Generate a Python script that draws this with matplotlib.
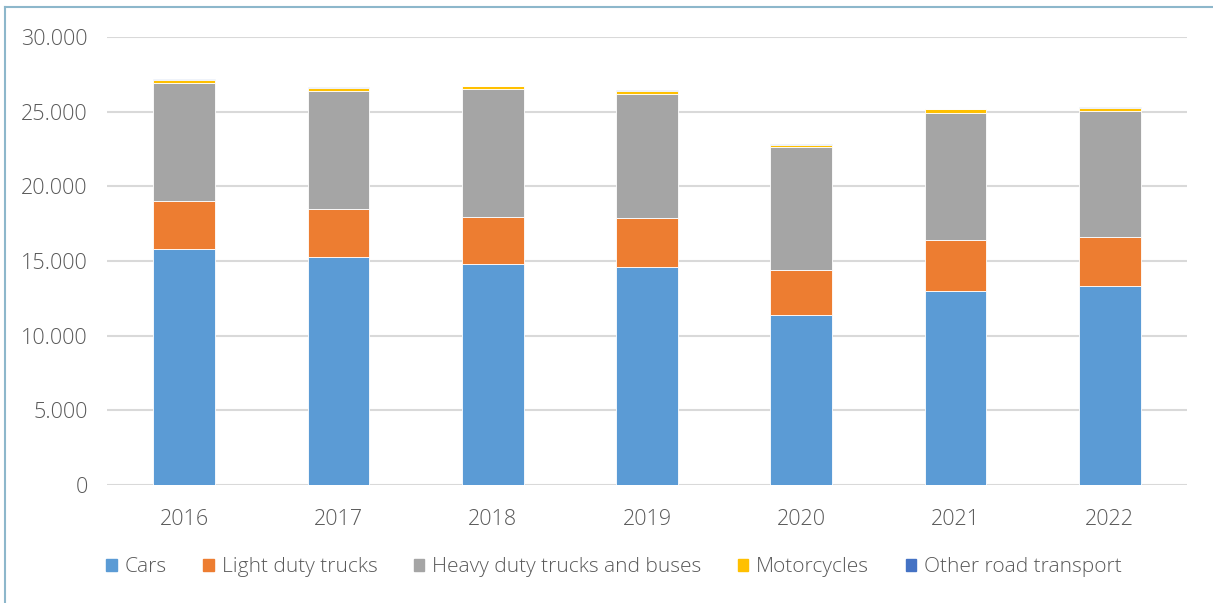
import matplotlib
matplotlib.use("Agg")
import matplotlib.pyplot as plt
from matplotlib.ticker import FuncFormatter, MultipleLocator
from matplotlib.lines import Line2D
import numpy as np

years = ["2016", "2017", "2018", "2019", "2020", "2021", "2022"]
cars = [15810, 15270, 14800, 14620, 11390, 12990, 13330]
light_trucks = [3190, 3220, 3130, 3240, 3010, 3400, 3300]
heavy_trucks = [7930, 7920, 8590, 8350, 8240, 8550, 8420]
motorcycles = [200, 200, 200, 200, 150, 220, 200]
other_road = [30, 30, 30, 30, 30, 30, 30]

series_names = ["Cars", "Light duty trucks", "Heavy duty trucks and buses",
                "Motorcycles", "Other road transport"]
colors = ["#5B9BD5", "#ED7D31", "#A5A5A5", "#FFC000", "#4472C4"]

plt.rcParams['font.family'] = ['Open Sans', 'DejaVu Sans']
txt_color = "#595959"

fig = plt.figure(figsize=(12.13, 6.03), dpi=100)
ax = fig.add_axes([107/1213, 1-485/603, (1187-107)/1213, (485-37)/603])

x = np.arange(len(years))
bottom = np.zeros(len(years))
handles = []
for name, vals, c in zip(series_names,
                         [cars, light_trucks, heavy_trucks, motorcycles, other_road],
                         colors):
    ax.bar(x, vals, 0.40, bottom=bottom, color=c, edgecolor="white",
           linewidth=0.6, zorder=3)
    bottom += np.array(vals)
    handles.append(plt.Rectangle((0, 0), 1, 1, color=c))

ax.set_xlim(-0.5, len(years) - 0.5)
ax.set_ylim(0, 30000)
ax.yaxis.set_major_locator(MultipleLocator(5000))
ax.yaxis.set_major_formatter(FuncFormatter(lambda v, p: "0" if v == 0 else f"{int(v):,}".replace(",", ".")))
ax.set_xticks(x)
ax.set_xticklabels(years)
ax.grid(axis="y", color="#D9D9D9", linewidth=1.5, zorder=0)
for s in ax.spines.values():
    s.set_visible(False)
ax.tick_params(axis="both", length=0, labelsize=15.5, colors=txt_color)
ax.tick_params(axis="y", pad=14)
ax.tick_params(axis="x", pad=17)
for lab in ax.get_xticklabels() + ax.get_yticklabels():
    lab.set_fontweight("light")

leg = fig.legend(handles, series_names, loc="center", bbox_to_anchor=(614/1213, 1-567/603),
                 ncol=5, frameon=False, fontsize=15, handlelength=0.5, handleheight=0.5,
                 handletextpad=0.38, columnspacing=1.75, labelcolor=txt_color)
for t in leg.get_texts():
    t.set_fontweight("light")

# outer frame (top and left visible)
fig.add_artist(Line2D([5/1213, 5/1213], [0, 1-7/603], color="#8DB7CB", linewidth=1.5))
fig.add_artist(Line2D([5/1213, 1], [1-7/603, 1-7/603], color="#8DB7CB", linewidth=1.5))

fig.savefig("out.png", dpi=100)
